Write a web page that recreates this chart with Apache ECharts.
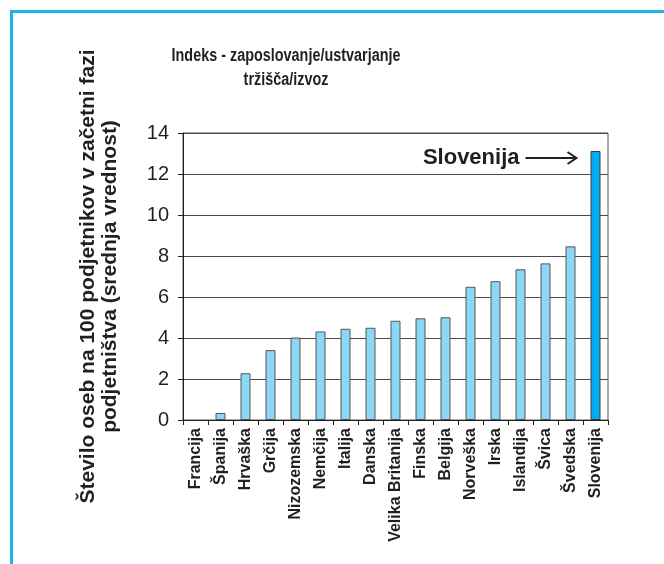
<!DOCTYPE html>
<html>
<head>
<meta charset="utf-8">
<script src="https://cdn.jsdelivr.net/npm/echarts@6/dist/echarts.min.js"></script>
<style>
  html, body { margin: 0; padding: 0; background: #fff; }
  #frame {
    position: absolute; left: 10px; top: 10px; width: 654px; height: 554px;
    border-top: 3px solid #1fb1ec; border-left: 3px solid #1fb1ec;
  }
  #main { position: absolute; left: 0; top: 0; width: 664px; height: 564px; }
</style>
</head>
<body>
<div id="frame"></div>
<div id="main"></div>
<script>
// podatki
var countries = ['Francija', 'Španija', 'Hrvaška', 'Grčija', 'Nizozemska', 'Nemčija', 'Italija',
  'Danska', 'Velika Britanija', 'Finska', 'Belgija', 'Norveška', 'Irska', 'Islandija',
  'Švica', 'Švedska', 'Slovenija'];
var values = [0, 0.34, 2.28, 3.41, 4.02, 4.32, 4.45, 4.5, 4.84, 4.96, 5.01, 6.5, 6.77, 7.35, 7.64, 8.47, 13.12];
var highlight = 'Slovenija';
var titleText = 'Indeks - zaposlovanje/ustvarjanje\ntržišča/izvoz';

var font = 'Liberation Sans, Arial, sans-serif';
var myChart = echarts.init(document.getElementById('main'));

var barData = values.map(function (v, i) {
  if (countries[i] === highlight) {
    return {
      value: v,
      itemStyle: { color: '#00aeef', borderColor: '#3a3a3a' },
      label: {
        show: true,
        formatter: 'Slovenija',
        position: [-71, 7],
        align: 'right',
        verticalAlign: 'middle',
        color: '#231f20',
        fontFamily: font,
        fontWeight: 'bold',
        fontSize: 22
      }
    };
  }
  if (v === 0) {
    return { value: v, itemStyle: { borderWidth: 0 } };
  }
  return v;
});

myChart.setOption({
  animation: false,
  grid: {
    left: 183,
    top: 133,
    right: 56,
    bottom: 144,
    show: true,
    borderColor: '#555',
    borderWidth: 1
  },
  xAxis: {
    type: 'category',
    data: countries,
    axisLine: { lineStyle: { color: '#231f20', width: 1 } },
    axisTick: { show: true, length: 5, lineStyle: { color: '#231f20' } },
    axisLabel: {
      rotate: 90,
      interval: 0,
      margin: 8,
      color: '#231f20',
      fontFamily: font,
      fontWeight: 'bold',
      fontSize: 16
    }
  },
  yAxis: {
    type: 'value',
    min: 0,
    max: 14,
    interval: 2,
    name: 'Število oseb na 100 podjetnikov v začetni fazi\npodjetništva (srednja vrednost)',
    nameLocation: 'middle',
    nameGap: 62,
    nameTextStyle: {
      color: '#231f20',
      fontFamily: font,
      fontWeight: 'bold',
      fontSize: 21,
      lineHeight: 22
    },
    axisLine: { show: true, lineStyle: { color: '#231f20', width: 1 } },
    axisTick: { show: true, length: 5, lineStyle: { color: '#231f20' } },
    axisLabel: {
      margin: 14,
      color: '#231f20',
      fontFamily: font,
      fontSize: 20
    },
    splitLine: { lineStyle: { color: '#4a4a4a', width: 1 } }
  },
  series: [{
    type: 'bar',
    data: barData,
    barWidth: '40%',
    itemStyle: { color: '#8dd7f6', borderColor: '#555', borderWidth: 1 }
  }]
});

// puščica do stolpca Slovenija + naslov (ozka pisava)
var idx = countries.indexOf(highlight);
var barTop = myChart.convertToPixel({ seriesIndex: 0 }, [idx, values[idx]]);
var ay = barTop[1] + 7;
var ax = barTop[0] - 19;
myChart.setOption({
  graphic: [{
    type: 'text',
    x: 286,
    y: 44,
    scaleX: 0.8,
    style: {
      text: titleText,
      align: 'center',
      verticalAlign: 'top',
      fill: '#231f20',
      font: 'bold 18px ' + font,
      lineHeight: 24
    }
  }, {
    type: 'group',
    children: [
      { type: 'line', shape: { x1: ax - 51, y1: ay, x2: ax, y2: ay }, style: { stroke: '#231f20', lineWidth: 2 } },
      { type: 'polyline', shape: { points: [[ax - 9, ay - 6], [ax, ay], [ax - 9, ay + 6]] }, style: { stroke: '#231f20', lineWidth: 2, fill: null } }
    ]
  }]
});
</script>
</body>
</html>
